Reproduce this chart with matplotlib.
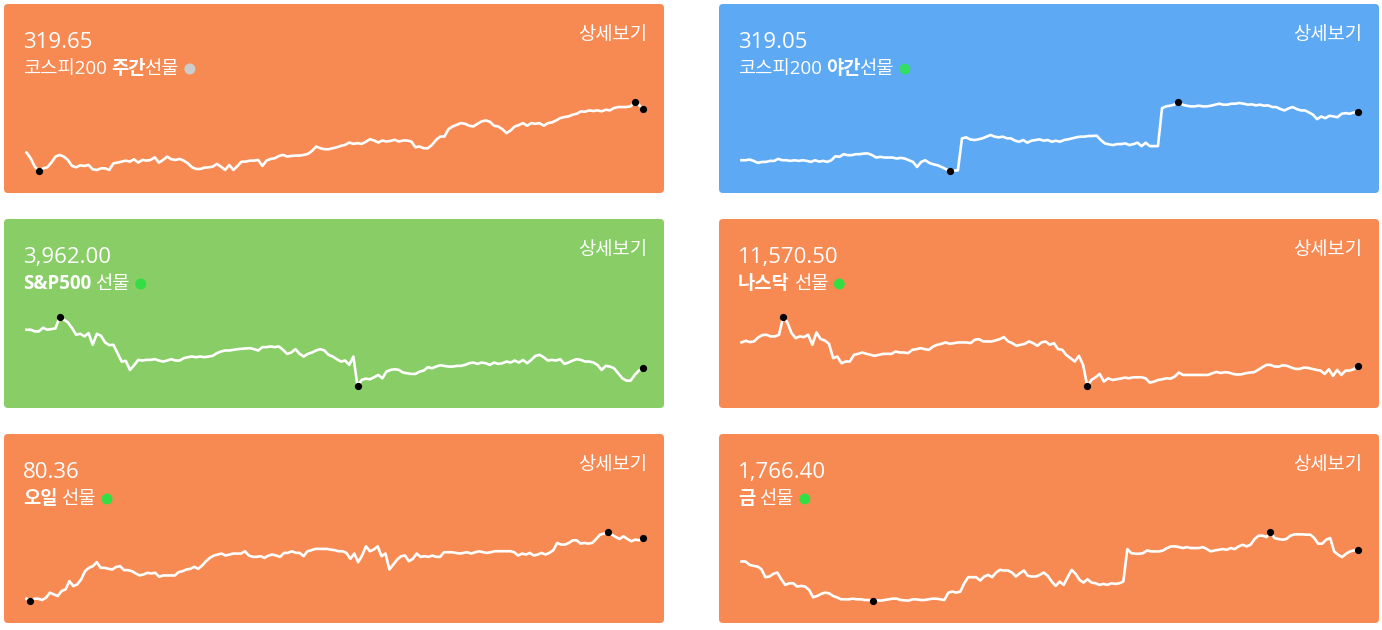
import matplotlib
matplotlib.use("Agg")
import matplotlib.pyplot as plt
import numpy as np
from matplotlib.patches import FancyBboxPatch, Circle

FAMILY = ['Open Sans', 'Noto Sans CJK KR', 'DejaVu Sans']
plt.rcParams['font.family'] = FAMILY

# card contents
values = ["319.65", "319.05", "3,962.00", "11,570.50", "80.36", "1,766.40"]
label_parts = [
    [("코스피200", False), (" 주간", True), ("선물", False)],
    [("코스피200", False), (" 야간", True), ("선물", False)],
    [("S&P500", True), (" 선물", False)],
    [("나스닥", True), (" 선물", False)],
    [("오일", True), (" 선물", False)],
    [("금", True), (" 선물", False)],
]
detail_text = "상세보기"
card_colors = ["#F78A53", "#5DA9F4", "#89CD67", "#F78A53", "#F78A53", "#F78A53"]
status_colors = ["#CCCCCC", "#33DD66", "#33DD44", "#33DD44", "#33DD44", "#33DD44"]

# sparkline levels (relative units)
kospi_day = [112, 95, 70, 57, 65, 68, 82, 100, 105, 100, 90, 72, 68, 74, 72, 75, 62, 60, 65, 65, 60, 80, 82, 85,
             88, 85, 92, 82, 90, 88, 90, 98, 82, 90, 100, 92, 90, 93, 88, 80, 68, 63, 63, 67, 68, 70, 78, 70, 60,
             75, 60, 72, 85, 85, 88, 88, 90, 72, 88, 93, 95, 102, 105, 100, 102, 103, 103, 105, 108, 117, 130, 125,
             122, 122, 125, 128, 132, 135, 142, 138, 140, 138, 144, 152, 148, 142, 148, 145, 147, 150, 145, 148,
             148, 145, 128, 130, 125, 125, 135, 150, 160, 160, 182, 190, 195, 200, 198, 192, 190, 198, 205, 208,
             204, 192, 190, 182, 170, 178, 190, 194, 200, 192, 200, 198, 200, 192, 200, 202, 208, 215, 218, 220,
             225, 228, 235, 234, 238, 236, 238, 235, 240, 238, 245, 248, 248, 248, 250, 263, 255, 241]
kospi_night = [90, 90, 92, 88, 82, 85, 85, 88, 88, 94, 90, 90, 88, 90, 88, 90, 88, 85, 90, 86, 88, 85, 90, 102,
               100, 108, 105, 105, 108, 108, 110, 110, 105, 98, 100, 98, 98, 98, 95, 97, 95, 90, 85, 70, 85, 90,
               82, 78, 75, 70, 64, 58, 59, 60, 155, 158, 152, 150, 152, 155, 160, 165, 160, 158, 160, 155, 155,
               148, 145, 150, 142, 148, 150, 152, 148, 150, 145, 148, 145, 150, 152, 155, 158, 160, 160, 162, 162,
               163, 150, 140, 137, 135, 138, 138, 140, 135, 138, 142, 132, 142, 132, 132, 132, 245, 250, 252, 255,
               263, 255, 252, 250, 250, 252, 250, 250, 252, 255, 258, 255, 255, 258, 258, 260, 258, 255, 256, 253,
               255, 252, 253, 248, 248, 242, 238, 244, 248, 242, 238, 238, 232, 225, 212, 220, 215, 222, 220, 218,
               228, 230, 228, 232, 233]
sp500 = [210, 210, 205, 205, 216, 210, 212, 214, 248, 240, 232, 215, 195, 198, 190, 200, 165, 198, 192, 172, 164,
         165, 140, 115, 117, 90, 104, 120, 118,
         120, 120, 122, 118, 115, 118, 122, 118, 118, 125, 128, 130, 128, 130, 128, 130, 132, 140, 145, 148, 148,
         150, 152, 153, 154, 155, 152, 148, 158, 158, 160, 158, 160, 150, 138, 142, 152, 138, 130, 138, 142, 148,
         152, 148, 135, 130, 122, 115, 118,
         105, 130, 42, 60, 64, 62, 68, 75, 65, 85, 90,
         92, 90, 82, 80, 78, 78, 85, 88, 98, 95, 100, 104, 102, 100, 100, 102, 102, 105, 110, 112, 108, 112, 110,
         105, 112, 108, 110, 115, 112, 118, 112, 120, 110, 120, 132, 135, 128, 118, 120, 118, 122, 108, 112, 118,
         122, 120, 115, 115, 112, 105, 90, 102, 100, 95, 80, 65, 58, 58, 75, 88, 95]
nasdaq = [172, 177, 173, 175, 187, 194, 195, 190, 190, 195, 248, 232, 200, 185, 190, 188, 195, 165, 202, 182, 178,
          168, 125, 130, 110, 115, 115, 135, 138,
          142, 138, 135, 132, 135, 138, 138, 138, 145, 142, 142, 140, 150, 152, 155, 152, 150, 160, 165, 168, 172,
          168, 170, 172, 172, 172, 170, 180, 182, 175, 175, 175, 178, 182, 188, 175, 170, 162, 165, 168, 175, 170,
          162, 172, 175, 165, 170,
          152, 150, 134, 125, 115, 132, 105, 42, 60, 68, 78, 55, 65, 60, 62, 64, 67, 65,
          68, 68, 68, 65, 52, 55, 60, 62, 65, 64, 70, 82, 75, 75, 75, 75, 75, 75, 75, 80, 84, 81, 83, 82, 78, 76,
          77, 80, 82, 83, 90, 98, 105, 105, 100, 100, 104, 102, 97, 93, 93, 97, 96, 93, 90, 88, 78, 92, 72, 90, 75,
          88, 88, 92, 102]
oil = [62, 55, 62, 62, 58, 65, 80, 75, 70, 85, 90, 115, 100, 105, 120, 145, 155, 160, 172, 155, 155, 152,
       150, 158, 160, 148, 148, 145, 138, 132, 135, 140, 138, 140, 128, 132, 132, 132, 132, 142, 145, 150, 152,
       158, 152, 162, 175, 185, 192, 195, 198, 192, 195, 198, 198, 198, 205, 192, 188, 188, 190, 185, 192, 195,
       192, 188, 200, 200, 205, 200, 200, 190, 205, 208, 212, 212, 212, 212, 210, 208, 205, 205, 200, 182, 198,
       172, 192, 220, 205, 210, 220, 190, 198, 150, 165, 180, 190, 192, 175, 182, 198, 188, 190, 188, 192, 188,
       188, 202, 202, 202, 200, 198, 200, 202, 198, 202, 205, 202, 200, 202, 205, 205, 205, 205, 205, 202, 192,
       198, 195, 200, 192, 195, 200, 195, 200, 208, 230, 225, 225, 230, 238, 238, 228, 230, 228, 230, 242, 255,
       258, 263, 255, 248, 242, 250, 242, 235, 240, 238, 244]
gold = [175, 175, 165, 162, 160, 152, 128, 130, 138, 142, 122, 105, 110, 110, 100, 102, 100, 90, 68, 72, 78, 82,
        80, 72, 68, 62, 62, 62, 64, 62, 62, 60, 60, 57, 59, 58, 60, 62, 64, 64, 60, 59, 58, 62, 62, 60, 60, 62,
        64, 64, 62, 60, 82, 85, 82, 85, 110, 128, 128, 128, 118, 130, 135, 128, 142, 150, 148, 148, 142, 130,
        140, 148, 132, 130, 130, 135, 142, 132, 115, 102, 115, 105, 128, 150, 138, 120, 112, 122, 112, 110, 105,
        108, 105, 110, 108, 110, 115, 212, 200, 198, 198, 200, 208, 205, 205, 205, 208, 215, 220, 220, 218, 215,
        218, 215, 215, 215, 218, 212, 205, 208, 210, 212, 210, 215, 212, 220, 225, 220, 225, 242, 252, 252, 248,
        263, 245, 242, 240, 242, 252, 256, 256, 256, 255, 255, 245, 228, 228, 240, 245, 205, 195, 188, 198, 205,
        208, 208]
series = [kospi_day, kospi_night, sp500, nasdaq, oil, gold]

W, H = 1382, 630
fig = plt.figure(figsize=(W / 100, H / 100), dpi=100)
fig.patch.set_facecolor('white')
bg = fig.add_axes([0, 0, 1, 1])
bg.set_xlim(0, W)
bg.set_ylim(H, 0)
bg.axis('off')

card_w, card_h = 660, 189
origins = [(4, 4), (719, 4), (4, 219), (719, 219), (4, 434), (719, 434)]
renderer = fig.canvas.get_renderer()

for i, (x0, y0) in enumerate(origins):
    bg.add_patch(FancyBboxPatch((x0, y0), card_w, card_h,
                                boxstyle="round,pad=0,rounding_size=4",
                                fc=card_colors[i], ec='none'))
    bg.text(x0 + 19, y0 + 44, values[i], color='white', fontsize=16,
            va='baseline', ha='left')
    bg.text(x0 + 643, y0 + 36, detail_text, color='white', fontsize=13.5,
            style='italic', va='baseline', ha='right')

    # label made of regular and bold pieces
    x = x0 + 19
    space_w = 5
    for txt, bold in label_parts[i]:
        lead = len(txt) - len(txt.lstrip(' '))
        x += lead * space_w
        t = bg.text(x, y0 + 70, txt.strip(), color='white', fontsize=13.5,
                    fontweight='bold' if bold else 'normal',
                    va='baseline', ha='left')
        x += t.get_window_extent(renderer).width - 1
    bg.add_patch(Circle((x + 12, y0 + 65), 5.5, fc=status_colors[i], ec='none'))

    # sparkline
    s = np.array(series[i], dtype=float)
    left = (x0 + 22.5) / W
    width = (card_w - 22.5 - 21) / W
    bottom = 1 - (y0 + 167) / H
    height = 69 / H
    ax = fig.add_axes([left, bottom, width, height])
    ax.axis('off')
    n = len(s)
    idx = np.arange(n)
    ax.set_xlim(0, n - 1)
    ax.set_ylim(s.min(), s.max())
    ax.plot(idx, s, color='white', lw=1.9, solid_joinstyle='round', clip_on=False)
    marks = [int(np.argmin(s)), int(np.argmax(s)), n - 1]
    ax.plot(idx[marks], s[marks], 'o', color='black', ms=4.2, clip_on=False, zorder=5)

fig.savefig("out.png", dpi=100, facecolor='white')
